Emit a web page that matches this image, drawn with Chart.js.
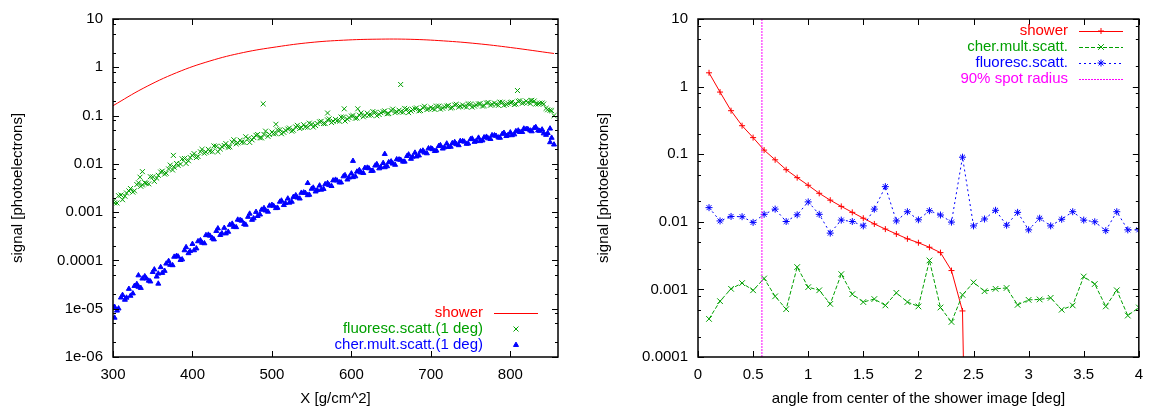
<!DOCTYPE html>
<html>
<head>
<meta charset="utf-8">
<script src="https://cdn.jsdelivr.net/npm/chart.js@4/dist/chart.umd.min.js"></script>
<style>
  body { margin: 0; background: #fff; }
  #wrap { position: relative; width: 1152px; height: 409px; }
  canvas { position: absolute; top: 0; }
</style>
</head>
<body>
<div id="wrap">
  <canvas id="leftChart" width="576" height="409" style="left:0"></canvas>
  <canvas id="rightChart" width="576" height="409" style="left:576px"></canvas>
</div>
<script>
//-----------------------------------------------------------------
// DATA - left panel (signal vs depth)
var xL = [300, 305, 310, 315, 320, 325, 330, 335, 340, 345, 350, 355, 360, 365, 370, 375, 380, 385, 390, 395,
          400, 405, 410, 415, 420, 425, 430, 435, 440, 445, 450, 455, 460, 465, 470, 475, 480, 485, 490, 495,
          500, 505, 510, 515, 520, 525, 530, 535, 540, 545, 550, 555, 560, 565, 570, 575, 580, 585, 590, 595,
          600, 605, 610, 615, 620, 625, 630, 635, 640, 645, 650, 655, 660, 665, 670, 675, 680, 685, 690, 695,
          700, 705, 710, 715, 720, 725, 730, 735, 740, 745, 750, 755, 760, 765, 770, 775, 780, 785, 790, 795,
          800, 805, 810, 815, 820, 825, 830, 835, 840, 845, 850, 855];

var fluorL = [0.00166, 0.00155, 0.00226, 0.00214, 0.00275, 0.00260, 0.00372, 0.00343, 0.00407, 0.00385,
              0.00537, 0.00507, 0.00676, 0.00613, 0.00785, 0.00746, 0.0102, 0.00989, 0.0129, 0.0116,
              0.0148, 0.0135, 0.0178, 0.0166, 0.0200, 0.0179, 0.0232, 0.0203, 0.0240, 0.0221,
              0.0282, 0.0260, 0.0309, 0.0277, 0.0335, 0.0314, 0.0389, 0.0347, 0.0407, 0.0372,
              0.0457, 0.0424, 0.0507, 0.0449, 0.0525, 0.0476, 0.0582, 0.0540, 0.0646, 0.0572,
              0.0668, 0.0620, 0.0741, 0.0684, 0.0813, 0.0716, 0.0832, 0.0767, 0.0933, 0.0841,
              0.0977, 0.0881, 0.102, 0.0944, 0.112, 0.102, 0.117, 0.105, 0.120, 0.109,
              0.127, 0.115, 0.129, 0.117, 0.136, 0.124, 0.138, 0.125, 0.146, 0.133,
              0.148, 0.134, 0.157, 0.142, 0.158, 0.143, 0.166, 0.150, 0.166, 0.150,
              0.174, 0.157, 0.174, 0.157, 0.182, 0.164, 0.182, 0.163, 0.188, 0.169,
              0.186, 0.169, 0.197, 0.179, 0.200, 0.178, 0.200, 0.174, 0.182, 0.141,
              0.129, 0.100];

var cherL = [1.07e-5, 9.12e-6, 1.70e-5, 1.53e-5, 2.57e-5, 2.07e-5, 3.24e-5, 2.69e-5, 4.68e-5, 3.80e-5,
             5.75e-5, 4.62e-5, 7.24e-5, 6.07e-5, 9.70e-5, 7.94e-5, 1.24e-4, 1.02e-4, 1.62e-4, 1.41e-4,
             2.19e-4, 1.77e-4, 2.61e-4, 2.26e-4, 3.40e-4, 2.88e-4, 4.06e-4, 3.36e-4, 4.72e-4, 3.91e-4,
             5.75e-4, 4.88e-4, 6.85e-4, 5.68e-4, 7.98e-4, 6.92e-4, 1.01e-3, 8.91e-4, 1.21e-3, 1.02e-3,
             1.41e-3, 1.21e-3, 1.64e-3, 1.40e-3, 1.91e-3, 1.64e-3, 2.23e-3, 1.91e-3, 2.55e-3, 2.24e-3,
             3.04e-3, 2.67e-3, 3.55e-3, 3.02e-3, 3.98e-3, 3.47e-3, 4.68e-3, 4.12e-3, 5.50e-3, 4.73e-3,
             6.31e-3, 5.50e-3, 7.41e-3, 6.46e-3, 8.32e-3, 7.11e-3, 9.20e-3, 8.05e-3, 0.0104, 8.91e-3,
             0.0112, 9.55e-3, 0.0123, 0.0111, 0.0145, 0.0127, 0.0170, 0.0149, 0.0188, 0.0165,
             0.0209, 0.0184, 0.0234, 0.0207, 0.0263, 0.0226, 0.0282, 0.0243, 0.0295, 0.0260,
             0.0324, 0.0285, 0.0347, 0.0305, 0.0363, 0.0327, 0.0389, 0.0351, 0.0417, 0.0376,
             0.0447, 0.0407, 0.0490, 0.0457, 0.0525, 0.0490, 0.0550, 0.0490, 0.0513, 0.0398,
             0.0537, 0.0251];

// second, interleaved set of samples (the bands are dense)
var xL2 = [302, 307, 312, 317, 322, 327, 332, 337, 342, 347, 352, 357, 362, 367, 372, 377, 382, 387, 392, 397,
           402, 407, 412, 417, 422, 427, 432, 437, 442, 447, 452, 457, 462, 467, 472, 477, 482, 487, 492, 497,
           502, 507, 512, 517, 522, 527, 532, 537, 542, 547, 552, 557, 562, 567, 572, 577, 582, 587, 592, 597,
           602, 607, 612, 617, 622, 627, 632, 637, 642, 647, 652, 657, 662, 667, 672, 677, 682, 687, 692, 697,
           702, 707, 712, 717, 722, 727, 732, 737, 742, 747, 752, 757, 762, 767, 772, 777, 782, 787, 792, 797,
           802, 807, 812, 817, 822, 827, 832, 837, 842, 847, 852];

var fluorL2 = [0.00156, 0.00219, 0.00181, 0.00249, 0.00308, 0.00277, 0.00406, 0.00366, 0.00396, 0.00541,
               0.00435, 0.00579, 0.00706, 0.00641, 0.00942, 0.00854, 0.00929, 0.0127, 0.0102, 0.0136,
               0.0163, 0.0142, 0.0200, 0.0175, 0.0182, 0.0235, 0.0179, 0.0227, 0.0263, 0.0226,
               0.0316, 0.0272, 0.0281, 0.0364, 0.0278, 0.0352, 0.0406, 0.0345, 0.0476, 0.0406,
               0.0420, 0.0505, 0.0420, 0.0497, 0.0552, 0.0497, 0.0628, 0.0565, 0.0579, 0.0697,
               0.0579, 0.0685, 0.0760, 0.0681, 0.0855, 0.0766, 0.0780, 0.0933, 0.0771, 0.0908,
               0.100, 0.0897, 0.113, 0.101, 0.102, 0.121, 0.0989, 0.115, 0.125, 0.110,
               0.136, 0.120, 0.120, 0.141, 0.115, 0.133, 0.144, 0.127, 0.156, 0.138,
               0.139, 0.157, 0.136, 0.152, 0.161, 0.147, 0.171, 0.156, 0.156, 0.175,
               0.150, 0.167, 0.177, 0.161, 0.187, 0.171, 0.170, 0.190, 0.163, 0.179,
               0.190, 0.174, 0.203, 0.186, 0.186, 0.207, 0.173, 0.181, 0.173, 0.132,
               0.126];

var cherL2 = [1.09e-5, 1.01e-5, 1.92e-5, 1.69e-5, 1.85e-5, 2.96e-5, 2.84e-5, 4.21e-5, 4.21e-5, 3.66e-5,
              6.49e-5, 5.33e-5, 5.51e-5, 8.59e-5, 8.09e-5, 1.19e-4, 1.20e-4, 1.05e-4, 1.88e-4, 1.56e-4,
              1.62e-4, 2.49e-4, 2.32e-4, 3.33e-4, 3.24e-4, 2.72e-4, 4.60e-4, 3.64e-4, 3.62e-4, 5.46e-4,
              4.95e-4, 6.97e-4, 6.62e-4, 5.48e-4, 9.27e-4, 7.45e-4, 8.30e-4, 1.12e-3, 1.08e-3, 1.36e-3,
              1.35e-3, 1.23e-3, 1.73e-3, 1.54e-3, 1.57e-3, 2.06e-3, 2.00e-3, 2.51e-3, 2.50e-3, 2.29e-3,
              3.21e-3, 2.86e-3, 2.91e-3, 3.78e-3, 3.63e-3, 4.53e-3, 4.49e-3, 4.12e-3, 5.81e-3, 5.19e-3,
              5.30e-3, 6.89e-3, 6.61e-3, 8.24e-3, 8.07e-3, 7.19e-3, 9.84e-3, 8.53e-3, 8.49e-3, 0.0108,
              0.0101, 0.0124, 0.0121, 0.0111, 0.0156, 0.0140, 0.0142, 0.0181, 0.0171, 0.0209,
              0.0201, 0.0188, 0.0243, 0.0220, 0.0224, 0.0268, 0.0255, 0.0297, 0.0288, 0.0263,
              0.0332, 0.0297, 0.0295, 0.0353, 0.0337, 0.0391, 0.0380, 0.0347, 0.0438, 0.0392,
              0.0391, 0.0473, 0.0456, 0.0536, 0.0522, 0.0471, 0.0577, 0.0483, 0.0427, 0.0434,
              0.0346];

// stray points sticking out of the bands
var fluorOutX = [334, 337, 376, 489, 505, 570, 591, 608, 662, 809, 826];
var fluorOutY = [0.0053, 0.0069, 0.015, 0.175, 0.066, 0.113, 0.138, 0.138, 0.44, 0.33, 0.205];
var cherOutX = [302, 332, 357, 545, 602, 642, 850];
var cherOutY = [6.5e-6, 4.9e-5, 3.3e-5, 0.004, 0.0115, 0.016, 0.028];

// shower curve
var showerLX = [300, 338, 380, 422, 464, 506, 548, 590, 632, 674, 716, 758, 800, 855];
var showerLY = [0.160, 0.367, 0.773, 1.35, 2.02, 2.65, 3.25, 3.64, 3.82, 3.80, 3.52, 3.09, 2.57, 1.93];

var xTicksL = [300, 400, 500, 600, 700, 800];
var yTicksL = [1e-6, 1e-5, 1e-4, 1e-3, 1e-2, 0.1, 1, 10];
var yLabelsL = ['1e-06', '1e-05', '0.0001', '0.001', '0.01', '0.1', '1', '10'];

//-----------------------------------------------------------------
// DATA - right panel (signal vs angle)
var xR = [0.1, 0.2, 0.3, 0.4, 0.5, 0.6, 0.7, 0.8, 0.9, 1.0, 1.1, 1.2, 1.3, 1.4, 1.5, 1.6, 1.7, 1.8, 1.9, 2.0,
          2.1, 2.2, 2.3, 2.4, 2.5, 2.6, 2.7, 2.8, 2.9, 3.0, 3.1, 3.2, 3.3, 3.4, 3.5, 3.6, 3.7, 3.8, 3.9, 4.0];
// shower falls to ~zero after 2.4 deg
var showerR = [1.6, 0.83, 0.44, 0.264, 0.176, 0.115, 0.0826, 0.059, 0.045, 0.0347, 0.0264, 0.0209, 0.0169, 0.0138,
               0.0113, 0.0093, 0.0078, 0.0066, 0.0056, 0.0049, 0.0042, 0.0035, 0.0019, 0.00048, 1e-12];
var cherR = [0.000366, 0.00067, 0.00102, 0.00124, 0.00097, 0.00145, 0.00079, 0.00051, 0.00214, 0.00108,
             0.00097, 0.00061, 0.00168, 0.00085, 0.00065, 0.00072, 0.00058, 0.00089, 0.00065, 0.00056,
             0.00268, 0.00054, 0.00033, 0.00083, 0.00127, 0.00094, 0.00102, 0.00105, 0.00059, 0.0007,
             0.00071, 0.00075, 0.0005, 0.00058, 0.00155, 0.0012, 0.00056, 0.00097, 0.00041, 0.00054];
var fluorR = [0.0162, 0.0103, 0.012, 0.0119, 0.0098, 0.0129, 0.0154, 0.0101, 0.0127, 0.0197,
              0.0129, 0.0068, 0.0106, 0.0101, 0.0087, 0.0154, 0.0331, 0.0103, 0.0141, 0.0107,
              0.0146, 0.0126, 0.0099, 0.0903, 0.0087, 0.011, 0.0148, 0.0089, 0.0138, 0.0076,
              0.0113, 0.0087, 0.0109, 0.0141, 0.0106, 0.01, 0.0074, 0.0141, 0.0076, 0.0076];
var spotX = [0.58, 0.58];
var spotY = [1e-4, 10];

var xTicksR = [0, 0.5, 1, 1.5, 2, 2.5, 3, 3.5, 4];
var xLabelsR = ['0', '0.5', '1', '1.5', '2', '2.5', '3', '3.5', '4'];
var yTicksR = [1e-4, 1e-3, 1e-2, 0.1, 1, 10];
var yLabelsR = ['0.0001', '0.001', '0.01', '0.1', '1', '10'];

var minorMult = [2, 5, 8];

//-----------------------------------------------------------------
// CHART
Chart.defaults.font.family = '"Liberation Sans", Arial, sans-serif';
Chart.defaults.font.size = 15;
Chart.defaults.color = '#000000';

const RED = '#ff0000';
const GREEN = '#00a000';
const BLUE = '#0000ff';
const MAGENTA = '#ff00ff';

function pairs(xs, ys) {
    return ys.map((y, i) => ({ x: xs[i], y: y }));
}

function drawMarker(ctx, style, x, y, r, color) {
    ctx.save();
    ctx.setLineDash([]);
    ctx.strokeStyle = color;
    ctx.fillStyle = color;
    ctx.lineWidth = 1;
    ctx.beginPath();
    if (style === 'cross' || style === 'star') {
        ctx.moveTo(x - r, y); ctx.lineTo(x + r, y);
        ctx.moveTo(x, y - r); ctx.lineTo(x, y + r);
    }
    if (style === 'crossRot' || style === 'star') {
        const d = r * 0.7071;
        ctx.moveTo(x - d, y - d); ctx.lineTo(x + d, y + d);
        ctx.moveTo(x - d, y + d); ctx.lineTo(x + d, y - d);
    }
    if (style === 'triangle') {
        ctx.moveTo(x, y - r);
        ctx.lineTo(x + r * 0.866, y + r * 0.5);
        ctx.lineTo(x - r * 0.866, y + r * 0.5);
        ctx.closePath();
        ctx.fill();
    }
    ctx.stroke();
    ctx.restore();
}

// gnuplot style box with inward ticks on all four sides
const framePlugin = {
    id: 'frame',
    afterDraw(chart) {
        const ctx = chart.ctx;
        const a = chart.chartArea;
        const xs = chart.scales.x, ys = chart.scales.y;
        ctx.save();
        ctx.strokeStyle = '#000';
        ctx.lineWidth = 1;
        ctx.beginPath();
        for (const t of xs.ticks) {
            const px = Math.round(xs.getPixelForValue(t.value)) + 0.5;
            ctx.moveTo(px, a.bottom); ctx.lineTo(px, a.bottom - 6);
            ctx.moveTo(px, a.top); ctx.lineTo(px, a.top + 6);
        }
        for (const t of ys.ticks) {
            const py = Math.round(ys.getPixelForValue(t.value)) + 0.5;
            ctx.moveTo(a.left, py); ctx.lineTo(a.left + 6, py);
            ctx.moveTo(a.right, py); ctx.lineTo(a.right - 6, py);
            for (const m of minorMult) {
                const v = t.value * m;
                if (v >= ys.max) continue;
                const pm = Math.round(ys.getPixelForValue(v)) + 0.5;
                ctx.moveTo(a.left, pm); ctx.lineTo(a.left + 3, pm);
                ctx.moveTo(a.right, pm); ctx.lineTo(a.right - 3, pm);
            }
        }
        ctx.stroke();
        ctx.lineWidth = 1.5;
        ctx.strokeRect(a.left, a.top, a.right - a.left, a.bottom - a.top);
        ctx.restore();
    }
};

// gnuplot style key: text right aligned, sample to the right
const keyPlugin = {
    id: 'gpKey',
    afterDraw(chart, args, opts) {
        const ctx = chart.ctx;
        ctx.save();
        ctx.font = '15px "Liberation Sans", Arial, sans-serif';
        ctx.textAlign = 'right';
        ctx.textBaseline = 'middle';
        opts.items.forEach((idx, k) => {
            const ds = chart.data.datasets[idx];
            const y = opts.y + k * opts.step;
            ctx.fillStyle = ds.borderColor;
            ctx.fillText(ds.label, opts.textRight, y);
            if (ds.showLine) {
                ctx.strokeStyle = ds.borderColor;
                ctx.lineWidth = ds.borderWidth || 1;
                ctx.setLineDash(ds.borderDash || []);
                ctx.beginPath();
                ctx.moveTo(opts.sampleLeft, Math.round(y) + 0.5);
                ctx.lineTo(opts.sampleRight, Math.round(y) + 0.5);
                ctx.stroke();
                ctx.setLineDash([]);
            }
            if (ds.pointRadius > 0) {
                drawMarker(ctx, ds.pointStyle, (opts.sampleLeft + opts.sampleRight) / 2, y, ds.pointRadius, ds.borderColor);
            }
        });
        ctx.restore();
    }
};

function makeOptions(cfg) {
    return {
        responsive: false,
        animation: false,
        devicePixelRatio: 1,
        layout: { padding: { left: 0, top: 17, right: cfg.padRight, bottom: 0 } },
        plugins: {
            legend: { display: false },
            tooltip: { enabled: false },
            gpKey: cfg.key,
        },
        scales: {
            x: {
                type: 'linear',
                min: cfg.xMin,
                max: cfg.xMax,
                grid: { display: false, drawTicks: false },
                border: { display: false },
                afterBuildTicks: (scale) => { scale.ticks = cfg.xTicks.map(v => ({ value: v })); },
                afterFit: (scale) => { scale.height = 52; },
                ticks: {
                    autoSkip: false,
                    maxRotation: 0,
                    padding: 9,
                    callback: (v, i) => cfg.xLabels[i],
                },
                title: { display: true, text: cfg.xTitle, padding: { top: 0, bottom: 1 } },
            },
            y: {
                type: 'logarithmic',
                min: cfg.yMin,
                max: cfg.yMax,
                grid: { display: false, drawTicks: false },
                border: { display: false },
                afterBuildTicks: (scale) => { scale.ticks = cfg.yTicks.map(v => ({ value: v })); },
                afterFit: (scale) => { scale.width = cfg.yWidth; },
                ticks: {
                    autoSkip: false,
                    padding: 10,
                    callback: (v, i) => cfg.yLabels[i],
                },
                title: { display: true, text: 'signal [photoelectrons]', padding: { top: cfg.yTitlePad, bottom: 0 } },
            },
        },
    };
}

// LEFT PANEL
const ctxL = document.getElementById('leftChart').getContext('2d');
const leftChart = new Chart(ctxL, {
    type: 'scatter',
    data: {
        datasets: [
            {
                label: 'shower',
                data: pairs(showerLX, showerLY),
                showLine: true,
                borderColor: RED,
                borderWidth: 1,
                pointRadius: 0,
                tension: 0.4,
                order: 3,
            },
            {
                label: 'fluoresc.scatt.(1 deg)',
                data: pairs(xL, fluorL).concat(pairs(xL2, fluorL2), pairs(fluorOutX, fluorOutY)),
                showLine: false,
                borderColor: GREEN,
                backgroundColor: GREEN,
                borderWidth: 1,
                pointStyle: 'crossRot',
                pointRadius: 3.5,
                order: 2,
            },
            {
                label: 'cher.mult.scatt.(1 deg)',
                data: pairs(xL, cherL).concat(pairs(xL2, cherL2), pairs(cherOutX, cherOutY)),
                showLine: false,
                borderColor: BLUE,
                backgroundColor: BLUE,
                borderWidth: 1,
                pointStyle: 'triangle',
                pointRadius: 2.9,
                order: 1,
            },
        ],
    },
    options: makeOptions({
        padRight: 18, xMin: 300, xMax: 860, yMin: 1e-6, yMax: 10,
        xTicks: xTicksL, xLabels: xTicksL.map(String), yTicks: yTicksL, yLabels: yLabelsL,
        xTitle: 'X [g/cm^2]', yWidth: 113, yTitlePad: 9,
        key: { items: [0, 1, 2], textRight: 483, sampleLeft: 494, sampleRight: 538, y: 313, step: 16 },
    }),
    plugins: [framePlugin, keyPlugin],
});

// RIGHT PANEL
const ctxR = document.getElementById('rightChart').getContext('2d');
const rightChart = new Chart(ctxR, {
    type: 'scatter',
    data: {
        datasets: [
            {
                label: 'shower',
                data: pairs(xR, showerR),
                showLine: true,
                borderColor: RED,
                backgroundColor: RED,
                borderWidth: 1,
                pointStyle: 'cross',
                pointRadius: 3,
                order: 4,
            },
            {
                label: 'cher.mult.scatt.',
                data: pairs(xR, cherR),
                showLine: true,
                borderColor: GREEN,
                backgroundColor: GREEN,
                borderWidth: 1,
                borderDash: [4, 2],
                pointStyle: 'crossRot',
                pointRadius: 4,
                order: 3,
            },
            {
                label: 'fluoresc.scatt.',
                data: pairs(xR, fluorR),
                showLine: true,
                borderColor: BLUE,
                backgroundColor: BLUE,
                borderWidth: 1,
                borderDash: [2, 3],
                pointStyle: 'star',
                pointRadius: 3.5,
                order: 2,
            },
            {
                label: '90% spot radius',
                data: pairs(spotX, spotY),
                showLine: true,
                borderColor: MAGENTA,
                borderWidth: 1,
                borderDash: [2, 1],
                pointRadius: 0,
                order: 1,
            },
        ],
    },
    options: makeOptions({
        padRight: 10, xMin: 0, xMax: 4, yMin: 1e-4, yMax: 10,
        xTicks: xTicksR, xLabels: xLabelsR, yTicks: yTicksR, yLabels: yLabelsR,
        xTitle: 'angle from center of the shower image [deg]', yWidth: 122, yTitlePad: 19,
        key: { items: [0, 1, 2, 3], textRight: 492, sampleLeft: 503, sampleRight: 547, y: 31, step: 16 },
    }),
    plugins: [framePlugin, keyPlugin],
});
</script>
</body>
</html>
